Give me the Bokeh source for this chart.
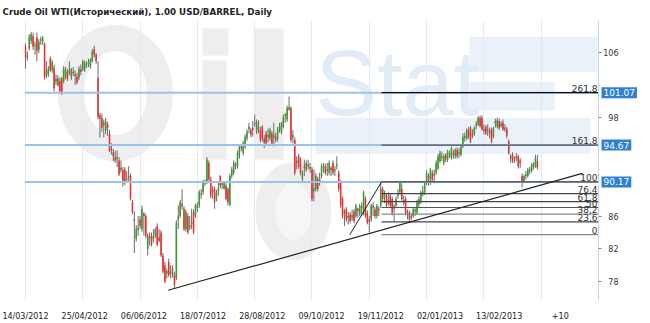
from bokeh.plotting import figure
from bokeh.models import Range1d, FixedTicker, Label
from bokeh.embed import file_html
from bokeh.resources import INLINE
from bokeh.core.properties import value

# ---------------- data ----------------
opens = [
 106.8,105.4,106.5,107.4,108.0,106.8,107.8,106.3,107.4,107.3,
 107.0,103.2,103.3,105.2,103.8,104.1,102.4,102.0,102.5,102.8,
 102.5,103.0,103.6,103.5,102.9,103.6,103.3,103.0,102.9,103.9,
 103.9,103.9,104.5,104.6,104.3,104.9,106.4,105.7,102.9,98.3,
 98.0,97.1,96.4,97.2,96.0,94.3,93.8,93.2,93.0,92.8,
 91.6,91.6,91.7,90.4,90.7,90.9,87.7,85.6,83.2,84.3,
 85.6,84.4,86.3,86.0,82.0,83.5,83.6,83.2,83.6,84.8,
 83.4,84.0,81.2,80.0,79.0,80.4,79.2,78.8,78.8,78.4,
 85.6,86.0,87.5,86.9,84.4,86.0,84.6,85.0,86.5,86.0,
 87.0,87.3,88.6,88.9,90.0,90.1,92.5,90.5,89.2,89.3,
 88.1,89.0,90.9,89.8,89.4,89.7,89.3,87.4,90.9,91.3,
 92.3,92.1,93.3,94.5,93.7,94.5,95.5,96.6,96.5,96.8,
 97.2,96.3,96.9,96.5,96.9,95.5,96.1,95.6,95.5,96.1,
 95.6,95.7,95.4,96.6,96.3,96.9,98.2,97.8,99.0,99.2,
 95.6,95.3,92.5,93.3,92.9,90.5,92.1,91.7,92.3,92.0,
 91.7,89.0,89.3,90.5,90.1,90.9,91.9,92.1,91.5,91.3,
 91.9,92.5,91.5,92.1,91.3,90.1,88.1,86.6,86.8,86.0,
 86.2,85.8,86.6,86.0,86.9,86.3,87.0,86.4,88.1,86.4,
 85.6,85.6,87.0,86.8,86.0,86.9,87.3,89.3,88.3,88.5,
 87.6,88.5,88.1,87.2,87.3,88.5,88.9,89.3,88.0,88.1,
 86.5,86.4,85.8,86.0,86.6,86.4,87.4,87.7,88.7,88.9,
 90.1,90.9,90.1,91.3,90.9,91.3,91.8,92.7,93.1,92.5,
 93.5,92.9,93.5,93.1,93.7,93.3,94.1,93.6,93.5,94.5,
 95.5,95.5,96.5,96.8,95.8,96.0,97.0,97.2,98.0,98.0,
 96.6,96.9,96.4,96.4,96.6,95.7,97.3,96.9,97.6,97.0,
 97.4,96.8,96.6,95.1,93.3,93.5,92.9,93.3,93.3,92.8,
 90.9,90.3,90.9,90.9,91.5,91.5,92.1,92.1,92.7]
highs = [
 107.1,106.1,108.2,108.5,108.4,107.3,108.4,107.6,107.9,108.0,
 107.2,104.9,104.3,105.5,105.1,104.5,103.3,103.2,102.9,103.0,
 104.3,104.2,104.0,104.9,104.1,104.2,103.8,103.5,104.3,104.5,
 105.1,105.0,104.9,105.2,105.3,106.4,106.8,105.9,104.9,98.6,
 98.5,97.8,98.0,97.5,96.5,94.9,94.2,94.0,94.0,93.2,
 92.8,92.0,92.0,91.5,92.1,91.2,88.0,86.6,84.9,86.0,
 86.0,87.3,86.5,86.3,83.9,84.0,84.0,84.4,84.6,85.1,
 84.4,84.3,81.5,80.4,79.6,80.8,80.0,80.0,79.2,85.5,
 87.3,88.0,89.3,87.2,86.8,86.4,86.0,86.9,86.8,87.5,
 87.7,89.2,89.3,90.4,90.5,93.2,92.8,90.8,89.7,89.6,
 89.2,90.1,91.0,90.1,90.3,90.0,89.5,91.2,92.0,92.8,
 92.6,94.0,94.8,94.8,95.2,96.0,96.6,97.4,96.8,97.6,
 98.4,97.8,97.7,96.9,97.1,95.9,96.4,96.7,96.8,96.4,
 97.4,96.2,96.9,97.4,97.5,98.4,98.6,99.5,100.6,99.4,
 96.5,95.6,93.3,93.6,93.2,91.6,92.9,92.8,92.9,92.5,
 92.0,91.7,91.2,90.8,91.3,92.4,92.5,92.4,92.5,92.8,
 92.1,92.8,92.1,93.3,91.6,90.4,88.4,86.9,87.1,86.5,
 86.5,86.8,86.9,87.5,87.0,87.5,87.7,89.1,88.4,86.7,
 86.0,87.5,87.7,87.1,87.5,87.2,90.1,89.6,89.1,88.8,
 88.9,88.8,88.4,87.5,88.4,89.3,90.3,90.0,88.5,88.4,
 86.8,86.7,86.4,87.0,87.1,88.0,88.4,89.1,89.7,90.3,
 91.6,91.2,91.9,91.6,91.7,92.8,93.6,94.0,93.9,93.6,
 93.7,94.1,94.0,94.5,94.1,94.3,94.4,94.3,94.8,96.1,
 96.2,96.7,96.9,97.0,96.6,97.0,97.6,98.2,98.3,98.3,
 97.2,97.1,97.2,96.8,96.8,96.9,97.9,98.0,97.9,97.6,
 97.8,97.2,96.9,95.4,93.6,93.8,93.3,93.7,93.5,93.1,
 91.2,91.1,91.5,91.9,92.0,92.5,92.6,93.5,93.5]
lows = [
 104.0,105.0,106.2,107.0,106.3,105.7,104.9,105.9,106.9,106.9,
 102.7,102.9,103.0,103.6,103.5,101.2,102.0,101.8,101.0,100.8,
 102.2,102.7,102.5,103.2,102.6,103.1,102.0,102.1,102.6,103.2,
 103.7,103.6,104.1,104.2,104.0,104.8,105.4,104.6,97.8,95.6,
 96.3,95.6,96.0,95.8,93.8,93.5,92.7,92.5,92.0,90.9,
 91.3,89.6,89.8,90.2,90.3,87.9,86.2,81.5,82.9,83.6,
 84.5,84.1,83.6,83.3,81.2,82.4,82.3,82.8,83.3,82.3,
 82.8,81.0,79.0,77.8,78.4,78.6,78.4,78.5,77.2,78.2,
 84.4,85.8,86.8,84.2,84.1,83.8,84.3,84.4,83.8,85.8,
 86.5,87.0,88.1,88.6,89.7,89.9,90.2,88.2,88.1,86.9,
 87.8,88.5,89.4,89.3,89.2,87.9,87.3,87.2,90.6,91.0,
 91.7,91.8,93.0,93.9,93.4,94.2,95.2,96.1,95.6,95.7,
 96.9,96.0,96.1,95.0,95.1,94.3,94.6,95.0,95.2,94.7,
 94.5,95.0,95.1,96.2,96.0,96.7,97.4,97.5,98.9,95.0,
 94.9,91.0,91.7,91.8,91.0,90.2,90.9,91.4,91.7,91.3,
 87.8,87.8,89.0,89.0,89.7,90.6,91.3,91.0,90.9,91.0,
 90.9,91.0,90.9,91.7,89.0,87.0,85.7,84.8,85.3,85.0,
 85.1,85.4,85.1,85.8,85.8,86.0,86.0,86.1,85.8,85.0,
 84.0,85.3,86.0,85.7,85.7,86.0,87.0,87.8,87.6,87.0,
 87.3,87.0,86.1,85.4,87.0,88.1,88.6,87.9,87.3,86.1,
 85.6,85.2,85.5,85.8,86.0,86.2,87.1,87.5,88.4,88.6,
 89.8,89.7,89.8,90.2,90.0,91.0,91.6,92.5,92.7,92.2,
 92.6,92.6,93.1,92.9,93.0,93.0,93.0,93.1,93.3,94.3,
 95.1,95.3,95.4,94.9,95.5,95.8,96.6,97.0,96.8,96.4,
 96.0,95.9,95.8,95.5,94.9,95.5,96.8,96.7,96.5,96.8,
 96.4,96.3,95.5,93.5,92.5,92.5,92.5,92.7,91.8,91.9,
 89.5,90.1,90.5,90.7,91.1,91.3,91.7,91.9,91.7]
closes = [
 105.3,105.6,107.9,108.2,106.7,106.9,106.2,107.3,107.6,107.8,
 103.0,103.8,104.0,103.8,104.8,101.6,102.8,102.8,101.2,101.0,
 104.0,103.8,102.7,103.8,103.9,103.4,103.1,102.3,104.0,103.6,
 104.9,104.7,104.6,104.8,105.1,106.1,105.7,104.9,98.1,97.9,
 96.8,97.4,97.6,96.8,94.0,94.0,93.3,92.8,93.2,91.1,
 91.9,90.0,90.1,90.6,90.9,88.1,86.5,85.4,84.4,84.6,
 84.8,86.9,86.0,83.6,83.6,83.3,82.5,83.5,84.4,82.5,
 83.0,81.2,79.2,78.0,79.3,78.8,79.0,79.6,77.6,85.2,
 86.0,87.7,87.2,84.4,86.5,84.0,84.9,85.3,84.0,87.3,
 87.3,88.9,88.8,90.1,90.2,92.9,90.5,88.5,89.0,87.7,
 88.9,89.4,89.7,90.0,90.1,88.1,87.7,90.9,91.7,92.5,
 92.1,93.7,94.5,94.3,94.9,95.7,96.3,96.9,95.9,96.5,
 97.4,97.5,96.6,95.3,95.5,95.0,94.9,95.9,96.5,94.9,
 95.9,95.3,96.6,96.9,97.3,98.1,98.4,99.2,99.3,95.3,
 95.9,91.3,92.8,92.1,91.3,91.3,91.9,92.5,92.1,91.8,
 88.1,89.4,90.9,89.3,90.4,92.1,92.1,91.3,91.7,92.5,
 91.6,91.3,91.7,92.3,89.3,87.3,86.0,86.3,85.6,85.8,
 85.4,86.1,85.4,87.3,86.6,87.2,87.3,88.9,86.0,85.2,
 85.3,87.3,87.3,86.0,87.3,86.7,89.3,88.1,88.6,87.3,
 87.9,87.3,86.4,86.9,88.1,88.8,90.1,88.1,87.7,86.4,
 86.2,85.6,86.0,86.8,86.8,87.7,88.1,88.9,89.0,90.1,
 91.3,90.6,91.7,90.5,91.2,92.5,93.3,93.7,93.3,93.3,
 92.9,93.9,93.7,94.3,93.5,94.1,93.3,93.8,94.5,95.7,
 95.8,96.5,95.7,95.1,96.1,96.8,97.3,98.0,97.0,96.6,
 96.4,96.1,96.6,96.1,95.1,96.7,97.6,97.7,96.8,97.3,
 96.6,96.6,95.8,93.7,93.0,92.7,93.1,93.1,92.1,92.5,
 90.1,90.9,91.1,91.7,91.7,92.3,92.3,93.1,91.9]

level_values = [101.07, 94.67, 90.17]
level_texts = ["101.07", "94.67", "90.17"]

fib_values = [83.73, 85.31, 86.24, 87.05, 87.78, 88.75, 90.17, 94.67, 101.07]
fib_texts = ["0", "23,6", "38,2", "50", "61,8", "76,4", "100", "161,8", "261,8"]
fib_colors = ["#8a8a8a", "#444444", "#8a8a8a", "#555555", "#444444", "#444444",
              "#444444", "#555555", "#111111"]
fib_start = 186.4
fib_swing_x = [169.8, 186.4]
fib_swing_y = [83.73, 90.17]

trend_x = [74.7, 291.5]
trend_y = [76.95, 91.21]

xtick_pos = [0, 31, 62, 93, 124, 155, 186, 217, 248, 280]
xtick_labels = ["14/03/2012", "25/04/2012", "06/06/2012", "18/07/2012", "28/08/2012",
                "09/10/2012", "19/11/2012", "02/01/2013", "13/02/2013", "+10"]
grid_pos = [0, 30, 60, 90, 120, 150, 180, 210, 240, 270]
ytick_vals = [78, 82, 86, 98, 106]

title_text = "Crude Oil WTI(\u0418\u0441\u0442\u043e\u0440\u0438\u0447\u0435\u0441\u043a\u0438\u0439), 1.00 USD/BARREL, Daily"

# ---------------- geometry ----------------
W, H = 650, 323
B_LEFT, B_TOP, B_BOTTOM = 24, 20, 21
SCALE_GAP = 52                      # pixels between the price scale and the right edge
X_START, X_END = -0.5, 300          # X_END = position of the price scale
Y_START, Y_END = 75.70, 109.88
px_x = (X_END - X_START) / (W - B_LEFT - SCALE_GAP)

n = min(len(opens), len(highs), len(lows), len(closes))
idx = list(range(n))
tops = [max(o, c) for o, c in zip(opens[:n], closes[:n])]
bots = [min(o, c) for o, c in zip(opens[:n], closes[:n])]
body_colors = ["#f02c2c" if c < o else "#3b9a2b" for o, c in zip(opens[:n], closes[:n])]

p = figure(width=W, height=H, x_range=Range1d(X_START, X_END + SCALE_GAP * px_x),
           y_range=Range1d(Y_START, Y_END),
           output_backend="svg", toolbar_location=None, y_axis_location="left",
           min_border_left=B_LEFT, min_border_right=0, min_border_top=B_TOP,
           min_border_bottom=B_BOTTOM)
p.background_fill_color = "white"
p.border_fill_color = "white"
p.outline_line_color = None

# title
p.title.text = title_text
p.title.align = "left"
p.title.offset = -22
p.title.standoff = 7
p.title.text_font = "DejaVu Sans"
p.title.text_font_style = "bold"
p.title.text_font_size = "8.7px"
p.title.text_color = "#222222"

# ---- faint background logo ----
wm_gray = "#eeeeee"
wm_blue = "#eaf1f9"
p.ellipse(x=[47.1], y=[101.03], width=[46.6], height=[13.45], fill_color=None,
          line_color=wm_gray, line_width=26, level="underlay")
p.quad(left=[92.7, 92.7, 120.0], right=[106.3, 105.3, 135.2], top=[108.9, 105.0, 108.9],
       bottom=[105.6, 92.9, 92.9], fill_color=wm_gray, line_color=None, level="underlay")
p.ellipse(x=[140.3], y=[86.6], width=[29.3], height=[9.5], fill_color="#f6f6f6",
          line_color=wm_gray, line_width=20, level="underlay")
p.quad(left=[232.5, 232.5, 151.9], right=[299.5, 277.0, 295.8], top=[107.9, 102.4, 98.0],
       bottom=[103.6, 98.9, 93.6], fill_color=wm_blue, line_color=None, level="underlay")
p.text(x=[151.9], y=[102.3], text=["Stat"], text_font=value("Liberation Sans"),
       text_font_size="92px", text_color="#e2ecf7", text_baseline="alphabetic", level="underlay")

# ---- candles ----
p.segment(x0=idx, y0=highs[:n], x1=idx, y1=lows[:n], line_color="#6a6a6a", line_width=1)
p.vbar(x=idx, width=0.8, top=tops, bottom=bots, fill_color=body_colors, line_color=None)

# ---- blue levels ----
p.segment(x0=[X_START] * len(level_values), x1=[X_END] * len(level_values),
          y0=level_values, y1=level_values, line_color="#9cc2ea", line_width=2)

# ---- fibonacci ----
p.segment(x0=[fib_start] * len(fib_values), x1=[X_END] * len(fib_values),
          y0=fib_values, y1=fib_values, line_color=fib_colors, line_width=1.2)
p.line(fib_swing_x, fib_swing_y, line_color="#222222", line_width=1)
p.text(x=[X_END] * len(fib_values), y=fib_values, text=fib_texts, x_offset=-1, y_offset=-1,
       text_align="right", text_baseline="bottom", text_font=value("DejaVu Sans"),
       text_font_size="9px", text_color="#333333")

# ---- trend line ----
p.line(trend_x, trend_y, line_color="#222222", line_width=1.2)

# ---- level value boxes on the price scale ----
for v, t in zip(level_values, level_texts):
    p.add_layout(Label(x=X_END, y=v, text=t, x_offset=3, text_align="left",
                       text_baseline="middle", text_font="DejaVu Sans", text_font_size="9px",
                       text_color="white", background_fill_color="#2f80d5", padding=2))

# ---- axes & grid ----
p.xaxis.ticker = FixedTicker(ticks=xtick_pos)
p.xaxis.major_label_overrides = dict(zip(xtick_pos, xtick_labels))
p.xaxis.axis_line_color = None
p.xaxis.major_tick_line_color = None
p.xaxis.minor_tick_line_color = None
p.xaxis.major_label_standoff = 5
p.xaxis.major_label_text_font = "DejaVu Sans"
p.xaxis.major_label_text_font_size = "8px"
p.xaxis.major_label_text_color = "#222222"

p.xgrid.ticker = FixedTicker(ticks=grid_pos)
p.xgrid.grid_line_color = "#e2ebf5"
p.ygrid.grid_line_color = None

# price scale drawn at x = X_END, labels to its right
p.yaxis.fixed_location = X_END
p.yaxis.ticker = FixedTicker(ticks=ytick_vals)
p.yaxis.axis_line_color = "#c6d5e6"
p.yaxis.major_tick_out = 0
p.yaxis.major_tick_in = 3
p.yaxis.minor_tick_line_color = None
p.yaxis.major_tick_line_color = "#888888"
p.yaxis.major_label_standoff = -20
p.yaxis.major_label_text_font = "DejaVu Sans"
p.yaxis.major_label_text_font_size = "8px"
p.yaxis.major_label_text_color = "#333333"

open("out.html", "w").write(file_html(p, INLINE))
